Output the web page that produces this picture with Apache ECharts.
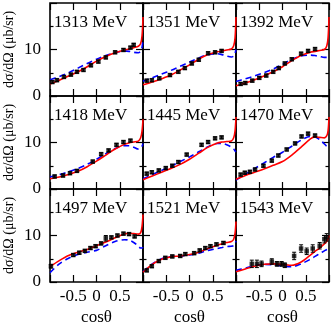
<!DOCTYPE html>
<html>
<head>
<meta charset="utf-8">
<script src="https://cdn.jsdelivr.net/npm/echarts@6/dist/echarts.min.js"></script>
<style>
html, body { margin: 0; padding: 0; background: #fff; }
#chart { width: 332px; height: 328px; }
</style>
</head>
<body>
<div id="chart"></div>
<script>
// beam energies, one per panel (row by row)
var energies = ['1313 MeV', '1351 MeV', '1392 MeV', '1418 MeV', '1445 MeV', '1470 MeV', '1497 MeV', '1521 MeV', '1543 MeV'];

// cos(theta) grid the model curves are given on
var cosGrid = [-1, -0.8, -0.6, -0.4, -0.2, 0, 0.2, 0.4, 0.6, 0.7, 0.8, 0.9, 0.95, 0.98, 1];

// red solid model
var red1313 = [2.6, 3.4, 4.3, 5.2, 6.3, 7.5, 8.5, 9.3, 9.9, 10.1, 10.4, 10.7, 11.3, 13, 17];
var red1351 = [2.4, 3.0, 3.7, 4.5, 5.6, 6.7, 7.9, 8.9, 9.5, 9.7, 9.9, 10.1, 10.8, 12.5, 17];
var red1392 = [2.2, 2.8, 3.5, 4.3, 5.2, 6.3, 7.6, 8.7, 9.4, 9.6, 9.8, 10.0, 10.7, 12.5, 17];
var red1418 = [2.2, 2.6, 3.1, 3.8, 4.8, 6.0, 7.3, 8.6, 9.6, 9.9, 10.1, 10.3, 11, 12.5, 15];
var red1445 = [2.0, 2.8, 3.6, 4.4, 5.3, 6.4, 7.7, 9.0, 9.9, 10.1, 10.2, 10.3, 11, 12.5, 15.5];
var red1470 = [2.1, 2.9, 3.6, 4.3, 5.1, 5.9, 7.3, 9.0, 10.8, 11.2, 11.1, 11.0, 11.4, 12.5, 15.5];
var red1497 = [3.3, 4.6, 5.7, 6.4, 7.0, 7.8, 8.6, 9.5, 10.3, 10.5, 10.4, 10.3, 10.6, 12, 14.5];
var red1521 = [2.1, 3.8, 4.9, 5.4, 5.6, 5.9, 6.4, 7.2, 7.9, 8.2, 8.5, 8.7, 9.2, 10.5, 13];
var red1543 = [2.2, 2.8, 3.4, 3.8, 3.9, 3.8, 3.6, 4.3, 5.8, 6.6, 7.3, 8.2, 8.7, 9.3, 10];

// blue dashed model
var blue1313 = [3.5, 4.2, 5.0, 6.0, 7.0, 7.9, 8.7, 9.3, 9.7, 9.6, 9.4, 9.3, 9.6, 10.5, 12];
var blue1351 = [3.2, 3.9, 4.7, 5.5, 6.4, 7.3, 8.2, 8.9, 9.1, 8.9, 8.6, 8.4, 8.6, 9.2, 10];
var blue1392 = [3.1, 3.7, 4.3, 5.0, 5.8, 6.8, 7.9, 8.6, 8.8, 8.7, 8.5, 8.3, 8.3, 8.4, 8.5];
var blue1418 = [2.6, 3.1, 3.7, 4.4, 5.3, 6.4, 7.6, 8.7, 9.3, 9.3, 9.0, 8.6, 8.8, 9.2, 9.8];
var blue1445 = [2.2, 3.1, 4.0, 4.9, 5.9, 6.9, 8.0, 9.1, 9.8, 9.8, 9.5, 9.0, 8.6, 8.2, 8.0];
var blue1470 = [1.9, 3.2, 4.4, 5.6, 6.8, 7.9, 9.2, 10.5, 11.3, 11.2, 10.6, 9.7, 9.2, 8.9, 8.7];
var blue1497 = [2.0, 3.9, 5.1, 5.9, 6.4, 6.8, 7.8, 8.7, 9.1, 9.0, 8.5, 7.7, 7.3, 7.3, 7.5];
var blue1521 = [2.2, 3.9, 5.0, 5.5, 5.6, 5.8, 6.2, 6.8, 7.2, 7.4, 7.6, 7.7, 7.8, 8.2, 8.8];
var blue1543 = [2.5, 3.0, 3.5, 3.8, 3.7, 3.4, 3.3, 3.9, 4.9, 5.5, 6.1, 6.7, 7.0, 7.2, 7.4];

// measured points: [cos(theta), dsigma/dOmega, error]
var pts1313 = [[-0.95, 3.0, 0.3], [-0.85, 3.4, 0.3], [-0.7, 4.1, 0.3], [-0.55, 4.6, 0.3], [-0.42, 5.2, 0.3], [-0.28, 5.6, 0.3], [-0.12, 6.6, 0.3], [0.04, 7.4, 0.3], [0.2, 8.3, 0.3], [0.4, 9.4, 0.3], [0.58, 9.9, 0.3], [0.73, 10.4, 0.3], [0.8, 11.0, 0.3]];
var pts1351 = [[-0.92, 3.3, 0.3], [-0.81, 3.4, 0.3], [-0.65, 3.8, 0.3], [-0.42, 4.5, 0.3], [-0.24, 5.2, 0.3], [-0.1, 6.0, 0.3], [0.05, 7.0, 0.3], [0.2, 7.8, 0.3], [0.4, 9.2, 0.3], [0.55, 9.4, 0.3], [0.69, 9.7, 0.3]];
var pts1392 = [[-0.9, 2.6, 0.3], [-0.8, 2.8, 0.3], [-0.65, 3.3, 0.3], [-0.5, 3.9, 0.3], [-0.35, 4.4, 0.3], [-0.2, 5.2, 0.3], [-0.08, 6.0, 0.3], [0.05, 7.0, 0.3], [0.2, 7.9, 0.3], [0.4, 9.1, 0.3], [0.55, 9.7, 0.3], [0.7, 10.1, 0.3]];
var pts1418 = [[-0.9, 2.7, 0.3], [-0.72, 2.9, 0.3], [-0.57, 3.4, 0.3], [-0.42, 3.9, 0.3], [-0.08, 5.9, 0.3], [0.1, 7.5, 0.3], [0.26, 8.3, 0.3], [0.43, 9.5, 0.3], [0.58, 10.1, 0.3], [0.73, 10.4, 0.3]];
var pts1445 = [[-0.92, 3.3, 0.3], [-0.81, 3.6, 0.3], [-0.66, 4.0, 0.3], [-0.51, 4.5, 0.3], [-0.37, 5.0, 0.3], [-0.24, 5.8, 0.3], [-0.06, 7.4, 0.3], [0.26, 9.5, 0.3], [0.4, 10.1, 0.3], [0.55, 10.9, 0.3], [0.69, 11.1, 0.3]];
var pts1470 = [[-0.9, 3.1, 0.3], [-0.81, 3.5, 0.3], [-0.7, 3.7, 0.3], [-0.59, 4.2, 0.3], [-0.41, 5.0, 0.3], [-0.23, 6.1, 0.3], [-0.09, 7.2, 0.3], [0.09, 8.5, 0.3], [0.27, 9.8, 0.3], [0.41, 11.3, 0.3], [0.55, 11.9, 0.3], [0.7, 11.5, 0.3]];
var pts1497 = [[-0.98, 3.4, 0.4], [-0.5, 5.8, 0.3], [-0.37, 6.3, 0.3], [-0.25, 6.7, 0.3], [-0.13, 7.3, 0.3], [-0.02, 7.7, 0.3], [0.1, 8.3, 0.3], [0.2, 9.4, 0.6], [0.32, 9.6, 0.3], [0.45, 10.0, 0.3], [0.58, 10.4, 0.3], [0.7, 10.3, 0.3], [0.82, 9.8, 0.3]];
var pts1521 = [[-0.92, 2.5, 0.3], [-0.81, 3.4, 0.3], [-0.66, 4.5, 0.3], [-0.52, 5.2, 0.3], [-0.37, 5.5, 0.3], [-0.2, 5.6, 0.3], [-0.09, 6.0, 0.3], [0.1, 6.2, 0.3], [0.22, 6.8, 0.3], [0.34, 7.3, 0.3], [0.45, 7.7, 0.3], [0.58, 8.1, 0.3], [0.73, 8.4, 0.3]];
var pts1543 = [[-0.66, 3.9, 0.8], [-0.55, 3.9, 0.8], [-0.45, 3.9, 0.6], [-0.23, 4.4, 0.6], [-0.12, 3.9, 0.5], [-0.02, 3.9, 0.5], [0.05, 3.6, 0.5], [0.25, 5.6, 0.8], [0.4, 7.2, 0.8], [0.52, 6.6, 0.7], [0.65, 7.2, 0.8], [0.8, 7.8, 0.7], [0.9, 9.2, 0.8], [0.95, 9.6, 0.8]];

var redCurves = [red1313, red1351, red1392, red1418, red1445, red1470, red1497, red1521, red1543];
var blueCurves = [blue1313, blue1351, blue1392, blue1418, blue1445, blue1470, blue1497, blue1521, blue1543];
var measured = [pts1313, pts1351, pts1392, pts1418, pts1445, pts1470, pts1497, pts1521, pts1543];

var font = 'Liberation Serif';
var panelSize = 93;

var pairs = function (ys) {
    return cosGrid.map(function (c, k) { return [c, ys[k]]; });
};

// vertical error bar with small caps
var errorBar = function (params, api) {
    var x = api.value(0), y = api.value(1), e = api.value(2);
    var hi = api.coord([x, y + e]);
    var lo = api.coord([x, y - e]);
    return {
        type: 'group',
        children: [
            { type: 'line', shape: { x1: hi[0], y1: hi[1], x2: lo[0], y2: lo[1] }, style: { stroke: '#000', lineWidth: 1 } },
            { type: 'line', shape: { x1: hi[0] - 2, y1: hi[1], x2: hi[0] + 2, y2: hi[1] }, style: { stroke: '#000', lineWidth: 1 } },
            { type: 'line', shape: { x1: lo[0] - 2, y1: lo[1], x2: lo[0] + 2, y2: lo[1] }, style: { stroke: '#000', lineWidth: 1 } }
        ]
    };
};

var tickOpt = function () {
    return { inside: true, length: 7, lineStyle: { color: '#000', width: 1.2 } };
};
var minorOpt = function () {
    return { show: true, splitNumber: 2, length: 3.5, lineStyle: { color: '#000', width: 1.2 } };
};
var noLine = function () {
    return { show: false, onZero: false };
};

var grids = [], xAxes = [], yAxes = [], series = [], titles = [];

for (var i = 0; i < 9; i++) {
    var row = Math.floor(i / 3), col = i % 3;
    var pLeft = 50 + col * panelSize, pTop = 3 + row * panelSize;
    var isBottom = row === 2, isLeft = col === 0;

    grids.push({
        left: pLeft, top: pTop, width: panelSize, height: panelSize,
        show: true, borderColor: '#000', borderWidth: 1.6
    });
    titles.push({
        text: energies[i], left: pLeft + 4, top: pTop + 11, padding: 0,
        textStyle: { fontFamily: font, fontSize: 17, fontWeight: 'normal', color: '#000' }
    });

    xAxes.push({
        gridIndex: i, type: 'value', min: -1, max: 1, interval: 0.5, position: 'bottom',
        axisLine: noLine(), axisTick: tickOpt(), splitLine: { show: false },
        axisLabel: {
            show: isBottom, margin: 6, color: '#000', fontFamily: font, fontSize: 17,
            formatter: function (v) { return (v === -1 || v === 1) ? '' : String(v); }
        },
        name: isBottom ? 'cosθ' : '', nameLocation: 'middle', nameGap: 27,
        nameTextStyle: { fontFamily: font, fontSize: 17, color: '#000' }
    });
    xAxes.push({
        gridIndex: i, type: 'value', min: -1, max: 1, interval: 0.5, position: 'top',
        axisLine: noLine(), axisTick: tickOpt(), splitLine: { show: false }, axisLabel: { show: false }
    });

    yAxes.push({
        gridIndex: i, type: 'value', min: 0, max: 20, interval: 10, position: 'left',
        axisLine: noLine(), axisTick: tickOpt(), minorTick: minorOpt(), splitLine: { show: false },
        axisLabel: {
            show: isLeft, margin: 9, color: '#000', fontFamily: font, fontSize: 17,
            formatter: function (v) { return v === 20 ? '' : String(v); }
        },
        name: isLeft ? 'dσ/dΩ (μb/sr)' : '', nameLocation: 'middle', nameGap: 34,
        nameTextStyle: { fontFamily: font, fontSize: 14, color: '#000' }
    });
    yAxes.push({
        gridIndex: i, type: 'value', min: 0, max: 20, interval: 10, position: 'right',
        axisLine: noLine(), axisTick: tickOpt(), minorTick: minorOpt(), splitLine: { show: false },
        axisLabel: { show: false }
    });

    var xi = 2 * i, yi = 2 * i;
    series.push({
        type: 'line', xAxisIndex: xi, yAxisIndex: yi, data: pairs(blueCurves[i]),
        showSymbol: false, smooth: 0.3, z: 3,
        lineStyle: { color: '#0000ff', width: 1.6, type: [6, 4] }
    });
    series.push({
        type: 'line', xAxisIndex: xi, yAxisIndex: yi, data: pairs(redCurves[i]),
        showSymbol: false, smooth: 0.3, z: 4,
        lineStyle: { color: '#ff0000', width: 1.6 }
    });
    series.push({
        type: 'custom', xAxisIndex: xi, yAxisIndex: yi, data: measured[i],
        renderItem: errorBar, encode: { x: 0, y: 1 }, z: 5
    });
    series.push({
        type: 'scatter', xAxisIndex: xi, yAxisIndex: yi,
        data: measured[i].map(function (p) { return [p[0], p[1]]; }),
        symbol: 'rect', symbolSize: 4.5, itemStyle: { color: '#000' }, z: 6
    });
}

var chart = echarts.init(document.getElementById('chart'), null, { renderer: 'canvas' });
chart.setOption({
    animation: false,
    backgroundColor: '#fff',
    title: titles,
    grid: grids,
    xAxis: xAxes,
    yAxis: yAxes,
    series: series
});
</script>
</body>
</html>
